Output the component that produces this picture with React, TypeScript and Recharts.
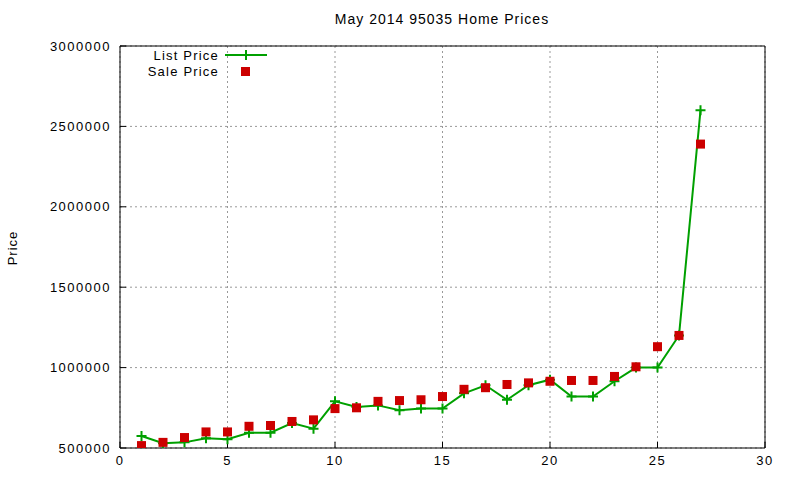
import { CartesianGrid, Line, LineChart, ReferenceArea, XAxis, YAxis } from "recharts";

const days = [1, 2, 3, 4, 5, 6, 7, 8, 9, 10, 11, 12, 13, 14, 15, 16, 17, 18, 19, 20, 21, 22, 23, 24, 25, 26, 27];
const listPrice = [
  575000, 530000, 535000, 560000, 555000, 595000, 595000, 655000, 620000, 790000, 755000, 765000, 735000, 745000,
  745000, 840000, 890000, 800000, 890000, 925000, 820000, 820000, 915000, 1000000, 1000000, 1200000, 2600000,
];
const salePrice = [
  515000, 535000, 565000, 600000, 600000, 635000, 640000, 665000, 675000, 745000, 750000, 790000, 795000, 800000,
  820000, 865000, 875000, 895000, 905000, 915000, 920000, 920000, 945000, 1005000, 1130000, 1200000, 2390000,
];
const xTicks = [0, 5, 10, 15, 20, 25, 30];
const yTicks = [500000, 1000000, 1500000, 2000000, 2500000, 3000000];

const GREEN = "#00a000";
const RED = "#cc0000";
const FONT = "'Liberation Sans', Arial, sans-serif";

const data = days.map((d, i) => ({ day: d, list: listPrice[i], sale: salePrice[i] }));

const tickStyle = { fontFamily: FONT, fontSize: 13, fill: "#000", letterSpacing: 1.5 };

function Plus(p: any) {
  const { cx, cy, index } = p;
  if (cx == null || cy == null) return null;
  return (
    <path
      key={`p${index}`}
      d={`M${cx - 5},${cy}H${cx + 5}M${cx},${cy - 5}V${cy + 5}`}
      stroke={GREEN}
      strokeWidth={2}
      fill="none"
    />
  );
}

function Square(p: any) {
  const { cx, cy, index } = p;
  if (cx == null || cy == null) return null;
  return <rect key={`s${index}`} x={cx - 4.5} y={cy - 4.5} width={9} height={9} fill={RED} />;
}

export default function App() {
  return (
    <div style={{ position: "absolute", left: 0, top: 0, width: 800, height: 480, background: "#fff" }}>
      <LineChart width={800} height={480} data={data} margin={{ top: 0, right: 0, bottom: 0, left: 0 }}>
        <CartesianGrid stroke="#999" strokeDasharray="2 3" />
        <XAxis
          dataKey="day"
          type="number"
          domain={[0, 30]}
          ticks={xTicks}
          height={32}
          axisLine={false}
          tickLine={{ stroke: "#000" }}
          tickSize={-6}
          tickMargin={14}
          tick={tickStyle}
          allowDataOverflow
        />
        <XAxis
          xAxisId="top"
          orientation="top"
          type="number"
          domain={[0, 30]}
          ticks={xTicks}
          height={46}
          axisLine={false}
          tickLine={{ stroke: "#000" }}
          tickSize={-6}
          tick={false}
          allowDataOverflow
        />
        <YAxis
          type="number"
          domain={[500000, 3000000]}
          ticks={yTicks}
          width={120}
          axisLine={false}
          tickLine={{ stroke: "#000" }}
          tickSize={-6}
          tickMargin={15}
          tick={tickStyle}
          allowDataOverflow
        />
        <YAxis
          yAxisId="right"
          orientation="right"
          type="number"
          domain={[500000, 3000000]}
          ticks={yTicks}
          width={35}
          axisLine={false}
          tickLine={{ stroke: "#000" }}
          tickSize={-6}
          tick={false}
          allowDataOverflow
        />
        <ReferenceArea x1={0} x2={30} y1={500000} y2={3000000} fill="none" stroke="#000" strokeWidth={1} ifOverflow="visible" />
        <Line
          dataKey="list"
          stroke={GREEN}
          strokeWidth={2}
          dot={Plus}
          activeDot={false}
          isAnimationActive={false}
        />
        <Line
          dataKey="sale"
          stroke="none"
          dot={Square}
          activeDot={false}
          isAnimationActive={false}
        />
      </LineChart>
      <div
        style={{
          position: "absolute",
          left: 0,
          width: 884,
          top: 11,
          textAlign: "center",
          fontFamily: FONT,
          fontSize: 14,
          letterSpacing: 1,
          color: "#000",
        }}
      >
        May 2014 95035 Home Prices
      </div>
      <div
        style={{
          position: "absolute",
          left: 12,
          top: 248,
          transform: "translate(-50%, -50%) rotate(-90deg)",
          fontFamily: FONT,
          fontSize: 13,
          letterSpacing: 1,
          color: "#000",
          whiteSpace: "nowrap",
        }}
      >
        Price
      </div>
      <svg style={{ position: "absolute", left: 0, top: 0 }} width={800} height={480}>
        <g fontFamily={FONT} fontSize={13} letterSpacing={1.2} fill="#000">
          <text x={219} y={55} textAnchor="end" dominantBaseline="central">
            List Price
          </text>
          <text x={219} y={71} textAnchor="end" dominantBaseline="central">
            Sale Price
          </text>
        </g>
        <path d="M225,55H267" stroke={GREEN} strokeWidth={2} />
        <path d="M241,55H251M246,50V60" stroke={GREEN} strokeWidth={2} />
        <rect x={241} y={67} width={9} height={9} fill={RED} />
      </svg>
    </div>
  );
}
